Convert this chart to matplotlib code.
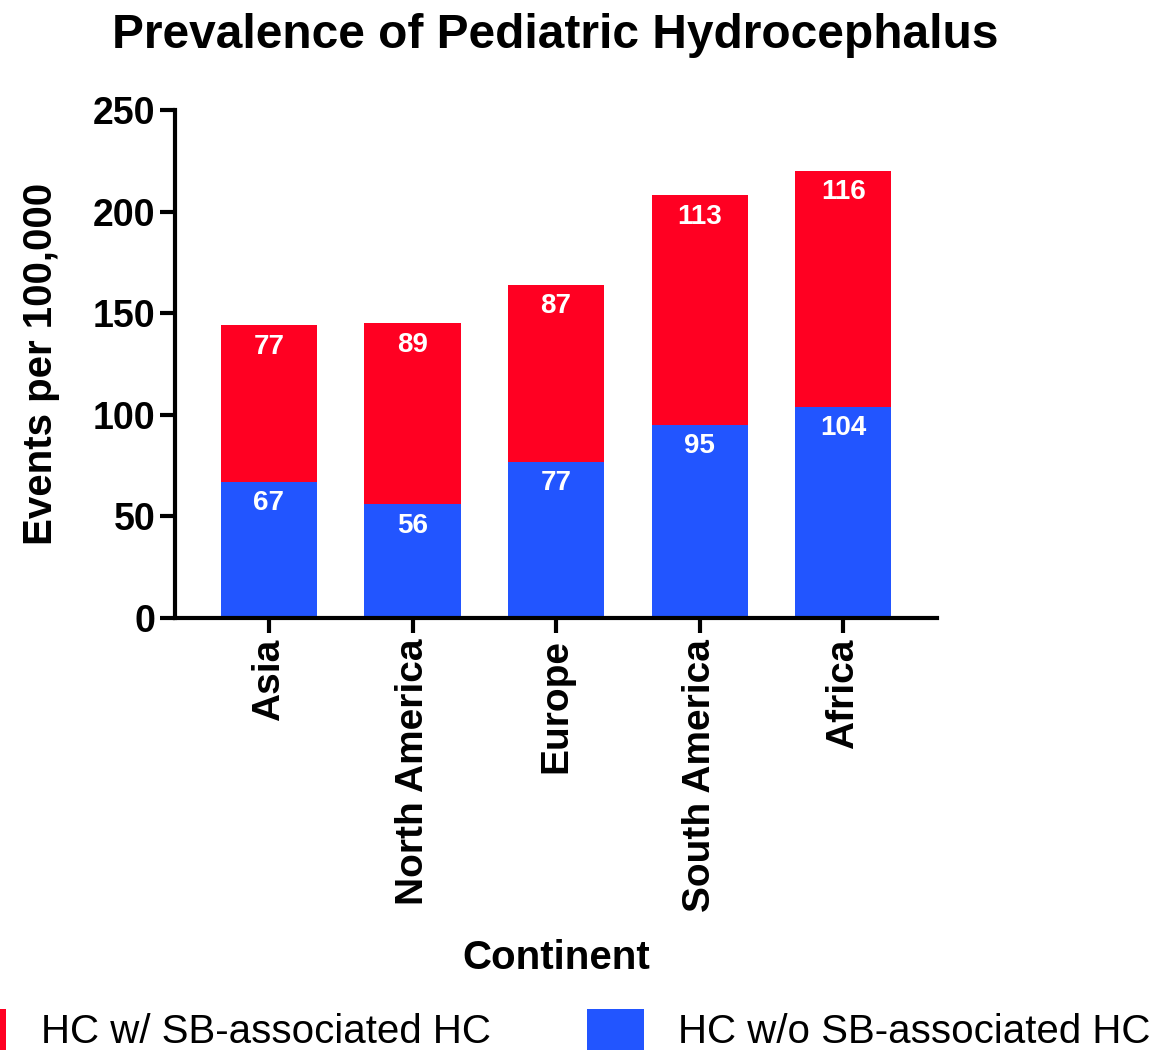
import matplotlib
matplotlib.use("Agg")
import matplotlib.pyplot as plt
from matplotlib.patches import Patch

plt.rcParams['font.family'] = ['Liberation Sans', 'DejaVu Sans']

continents = ["Asia", "North America", "Europe", "South America", "Africa"]
without_sb = [67, 56, 77, 95, 104]
with_sb = [77, 89, 87, 113, 116]
yticks = [0, 50, 100, 150, 200, 250]

red = "#FF0022"
blue = "#2255FF"

fig = plt.figure(figsize=(11.71, 10.53), dpi=100)
ax = fig.add_axes([0.1494, 0.4131, 0.651, 0.4824])

x = list(range(len(continents)))
w = 0.67
ax.bar(x, without_sb, width=w, color=blue, label="HC w/o SB-associated HC")
ax.bar(x, with_sb, width=w, bottom=without_sb, color=red, label="HC w/ SB-associated HC")

for i in x:
    ax.annotate(str(without_sb[i]), (i, without_sb[i]), xytext=(0, -6), textcoords="offset points",
                ha="center", va="top", color="white", fontsize=20, fontweight="bold")
    ax.annotate(str(with_sb[i]), (i, without_sb[i] + with_sb[i]), xytext=(0, -6), textcoords="offset points",
                ha="center", va="top", color="white", fontsize=20, fontweight="bold")

ax.set_xlim(-0.655, 4.655)
ax.set_ylim(0, 250)
ax.set_yticks(yticks)
ax.set_yticklabels([str(t) for t in yticks], fontsize=27, fontweight="bold")
ax.set_xticks(x)
ax.set_xticklabels(continents, rotation=90, fontsize=28, fontweight="bold")

for s in ["top", "right"]:
    ax.spines[s].set_visible(False)
for s in ["left", "bottom"]:
    ax.spines[s].set_linewidth(3)
ax.tick_params(axis="both", width=3, length=11, direction="out")
ax.tick_params(axis="y", pad=3)
ax.tick_params(axis="x", pad=4)

ax.set_ylabel("Events per 100,000", fontsize=29, fontweight="bold", labelpad=24)
ax.set_xlabel("Continent", fontsize=29, fontweight="bold", labelpad=20)
fig.suptitle("Prevalence of Pediatric Hydrocephalus", x=0.474, y=0.988, fontsize=34.5, fontweight="bold", va="top")

handles = [Patch(facecolor=red), Patch(facecolor=blue)]
labels = ["HC w/ SB-associated HC", "HC w/o SB-associated HC"]
fig.legend(handles, labels, loc="center left", bbox_to_anchor=(-0.0427, 0.0218), ncol=2, frameon=False,
           fontsize=29, handlelength=1.4, handleheight=1.2, columnspacing=2.4, handletextpad=0.85,
           borderaxespad=0, borderpad=0)

fig.savefig("out.png", dpi=100)
